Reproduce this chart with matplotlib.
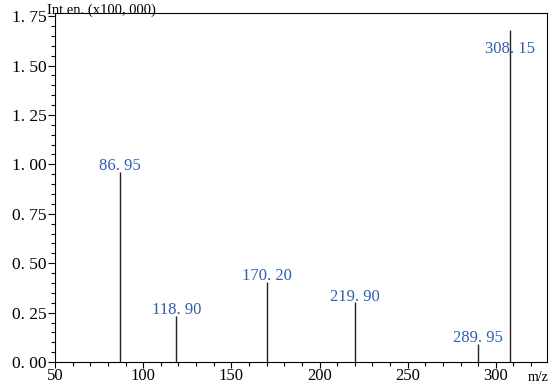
#!/usr/bin/env python3

import matplotlib
matplotlib.use("Agg")
import matplotlib.pyplot as plt
from matplotlib.ticker import MultipleLocator, FuncFormatter

# peaks (m/z, intensity x100,000)
mz = [86.95, 118.90, 170.20, 219.90, 289.95, 308.15]
intensity = [0.963, 0.233, 0.406, 0.302, 0.091, 1.68]
peak_labels = ["86. 95", "118. 90", "170. 20", "219. 90", "289. 95", "308. 15"]

plt.rcParams['font.family'] = ['Liberation Serif', 'DejaVu Serif']

fig = plt.figure(figsize=(5.5, 3.86), dpi=100)
ax = fig.add_axes([0.1, 0.062, 0.8945, 0.904])

ax.vlines(mz, 0, intensity, color='#222222', linewidth=1.0)

label_top = 1.555
for x, h, t in zip(mz, intensity, peak_labels):
    y = min(h, label_top) + 0.008
    ax.text(x, y, t, color='#2f5fb0', fontsize=12, ha='center', va='baseline')

ax.set_xlim(50, 329)
ax.set_ylim(0, 1.765)

ax.xaxis.set_major_locator(MultipleLocator(50))
ax.xaxis.set_minor_locator(MultipleLocator(10))
ax.yaxis.set_major_locator(MultipleLocator(0.25))
ax.yaxis.set_minor_locator(MultipleLocator(0.05))
ax.yaxis.set_major_formatter(FuncFormatter(lambda v, p: f"{v:.2f}".replace(".", ". ")))

ax.tick_params(axis='both', which='major', direction='out', length=5, width=0.8,
               labelsize=12.5)
ax.tick_params(axis='x', which='major', length=4, pad=0, labelsize=12)
ax.tick_params(axis='y', which='major', pad=1)
ax.tick_params(axis='both', which='minor', direction='out', length=3, width=0.8)

for s in ax.spines.values():
    s.set_linewidth(0.8)

# axis titles
fig.text(47 / 550, 1 - 14 / 386, "Int en. (x100, 000)", fontsize=10.5, ha='left', va='baseline')
fig.text(538 / 550, 1 - 381 / 386, "m/z", fontsize=10, ha='center', va='baseline')

plt.savefig("out.png", dpi=100)
